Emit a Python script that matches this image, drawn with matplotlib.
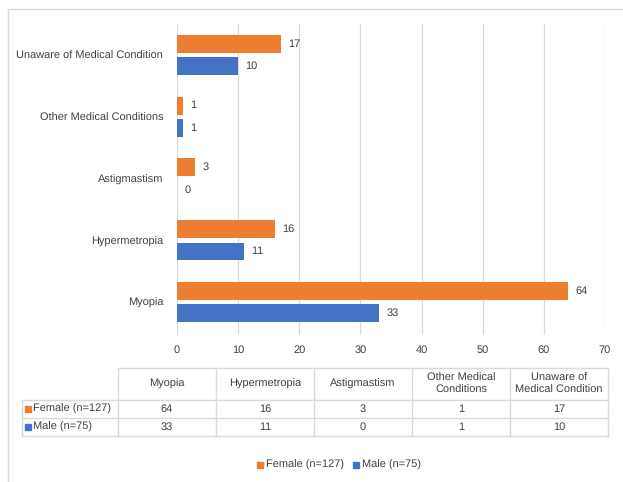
import matplotlib.pyplot as plt
from matplotlib.patches import Rectangle

categories = ['Myopia', 'Hypermetropia', 'Astigmastism', 'Other Medical Conditions',
              'Unaware of Medical Condition']
table_headers = ['Myopia', 'Hypermetropia', 'Astigmastism', 'Other Medical\nConditions',
                 'Unaware of\nMedical Condition']
female = [64, 16, 3, 1, 17]
male = [33, 11, 0, 1, 10]
series_names = ['Female (n=127)', 'Male (n=75)']
xticks = [0, 10, 20, 30, 40, 50, 60, 70]

ORANGE = '#ED7D31'
BLUE = '#4472C4'
GRID = '#D9D9D9'
TXT = '#404040'

plt.rcParams['font.family'] = ['Liberation Sans', 'DejaVu Sans']
plt.rcParams['text.hinting'] = 'no_hinting'
plt.rcParams['text.hinting_factor'] = 1
fs = 7.9

W, H = 623, 482
fig = plt.figure(figsize=(W / 100, H / 100), dpi=100)

# bar chart area
ax = fig.add_axes([177 / W, 1 - 335 / H, 428 / W, 311 / H])
y = list(range(len(categories)))
bh = 0.29
off = 0.18
ax.barh([v + off for v in y], female, height=bh, color=ORANGE, zorder=3)
ax.barh([v - off for v in y], male, height=bh, color=BLUE, zorder=3)
for i in y:
    ax.text(female[i] + 1.2, i + off, str(female[i]), va='center', ha='left',
            fontsize=fs, color=TXT)
    ax.text(male[i] + 1.2, i - off, str(male[i]), va='center', ha='left',
            fontsize=fs, color=TXT)
ax.set_xlim(0, 70)
ax.set_ylim(-0.53, 4.5)
ax.set_xticks(xticks)
ax.set_yticks(y)
ax.set_yticklabels(categories)
ax.xaxis.grid(True, color=GRID, lw=0.9, zorder=0)
ax.tick_params(length=0, labelsize=fs, colors=TXT, pad=7)
ax.tick_params(axis='y', pad=10)
for s in ax.spines.values():
    s.set_visible(False)

# overlay in pixel coordinates for table, legend and frame
ov = fig.add_axes([0, 0, 1, 1])
ov.set_xlim(0, W)
ov.set_ylim(H, 0)
ov.axis('off')

ov.plot([8, 8], [9, H], color=GRID, lw=1)
ov.plot([8, W], [9, 9], color=GRID, lw=1)

cols = [118, 216, 314, 412, 510, 608]
rows = [368, 400, 418, 436]
lx = 22
for r in rows:
    ov.plot([cols[0] if r == rows[0] else lx, cols[-1]], [r, r], color=GRID, lw=1)
for c in cols:
    ov.plot([c, c], [rows[0], rows[-1]], color=GRID, lw=1)
ov.plot([lx, lx], [rows[1], rows[-1]], color=GRID, lw=1)

for j, h in enumerate(table_headers):
    ov.text((cols[j] + cols[j + 1]) / 2, (rows[0] + rows[1]) / 2, h, ha='center',
            va='center', fontsize=fs, color=TXT, linespacing=1.3)
for k, (vals, name, col) in enumerate([(female, series_names[0], ORANGE),
                                         (male, series_names[1], BLUE)]):
    yc = (rows[k + 1] + rows[k + 2]) / 2
    ov.add_patch(Rectangle((lx + 3, yc - 3), 6, 6, color=col))
    ov.text(lx + 11, yc, name, ha='left', va='center', fontsize=fs, color=TXT)
    for j, v in enumerate(vals):
        ov.text((cols[j] + cols[j + 1]) / 2, yc, str(v), ha='center', va='center',
                fontsize=fs, color=TXT)

# legend, laid out from measured text widths and centred
ly = 465
r = fig.canvas.get_renderer()
t1 = ov.text(0, ly, series_names[0], ha='left', va='center', fontsize=fs, color=TXT)
t2 = ov.text(0, ly, series_names[1], ha='left', va='center', fontsize=fs, color=TXT)
w1 = t1.get_window_extent(r).width
w2 = t2.get_window_extent(r).width
total = 9 + w1 + 10 + 9 + w2
x0 = 339 - total / 2
ov.add_patch(Rectangle((x0, ly - 3), 6, 6, color=ORANGE))
t1.set_x(x0 + 9)
x1 = x0 + 9 + w1 + 10
ov.add_patch(Rectangle((x1, ly - 3), 6, 6, color=BLUE))
t2.set_x(x1 + 9)

fig.savefig('out.png', dpi=100)
